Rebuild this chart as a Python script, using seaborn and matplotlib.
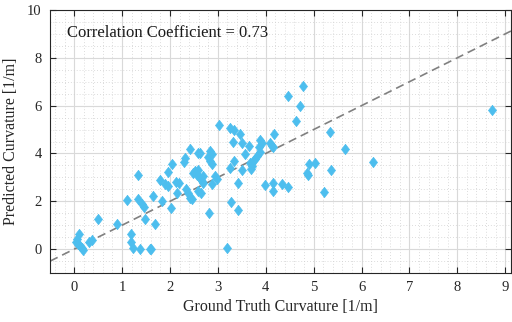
import matplotlib
matplotlib.use("Agg")
import matplotlib.pyplot as plt
from matplotlib.ticker import MultipleLocator
import seaborn as sns
import pandas as pd

# Ground truth vs. predicted curvature samples [1/m]
ground_truth = [
    0.11, 0.06, 0.04, 0.09, 0.13, 0.16, 0.19, 0.37, 0.32, 0.49,
    0.90, 1.18, 1.18, 1.22, 1.38, 1.58, 1.61, 1.10, 1.34, 1.41,
    1.46, 1.49, 1.68, 1.64, 1.83, 2.02, 1.34, 1.80, 1.90, 1.96,
    2.13, 2.18, 2.33, 2.37, 2.14, 2.42, 2.46, 1.96, 2.05, 2.32,
    2.30, 2.41, 2.58, 2.63, 2.84, 2.87, 2.80, 2.84, 2.87, 2.49,
    2.53, 2.59, 2.56, 2.63, 2.70, 2.67, 2.70, 2.87, 2.59, 2.65,
    2.94, 2.98, 2.82, 3.03, 3.26, 3.33, 3.47, 3.31, 3.50, 3.66,
    3.88, 3.92, 3.87, 3.88, 3.57, 3.81, 3.78, 3.74, 3.67, 3.71,
    3.33, 3.26, 3.50, 3.69, 3.43, 3.28, 3.42, 3.19, 4.18, 4.09,
    4.13, 4.16, 3.99, 4.16, 4.16, 4.33, 4.46, 4.77, 4.47, 4.72,
    4.64, 5.34, 5.66, 6.24, 8.73, 4.91, 5.02, 4.87, 4.89, 5.37,
    5.21,
]
predicted = [
    0.63, 0.42, 0.28, 0.21, 0.12, 0.05, -0.02, 0.40, 0.30, 1.24,
    1.05, 0.64, 0.28, 0.05, 0.00, 0.00, 0.00, 2.07, 2.10, 1.90,
    1.78, 1.25, 1.07, 2.22, 2.01, 1.74, 3.10, 2.89, 2.71, 2.64,
    2.80, 2.78, 2.53, 2.35, 2.36, 2.15, 2.08, 3.24, 3.54, 3.82,
    3.64, 4.17, 4.03, 4.03, 4.12, 3.96, 3.84, 3.68, 3.58, 3.19,
    3.28, 3.33, 3.10, 2.99, 3.05, 2.85, 2.75, 2.71, 2.45, 2.36,
    3.05, 2.94, 1.50, 5.20, 5.07, 4.97, 4.82, 4.47, 4.42, 4.33,
    4.58, 4.44, 4.26, 4.08, 3.96, 3.89, 3.75, 3.68, 3.61, 3.47,
    3.68, 3.38, 3.33, 3.36, 2.78, 1.97, 1.62, 0.03, 4.83, 4.42,
    4.33, 4.28, 2.67, 2.75, 2.42, 2.72, 2.61, 6.81, 6.42, 5.97,
    5.37, 4.90, 4.17, 3.65, 5.82, 3.57, 3.61, 3.20, 3.12, 3.33,
    2.40,
]
correlation = 0.73

x_ticks = list(range(0, 10))
y_ticks = list(range(0, 11, 2))

df = pd.DataFrame({"truth": ground_truth, "pred": predicted})

sns.set_style("white")
plt.rcParams["font.family"] = ["Liberation Serif", "DejaVu Serif"]
plt.rcParams["mathtext.fontset"] = "stix"

fig = plt.figure(figsize=(5.12, 3.22), dpi=100)
ax = fig.add_axes([0.098, 0.152, 0.900, 0.817])

point_color = "#4DBEEE"
diamond = [(0, 1), (0.78, 0), (0, -1), (-0.78, 0), (0, 1)]

# identity reference line
ax.axline((0, 0), slope=1, color="#808080", lw=1.2, ls=(0, (5, 3)), zorder=2)

sns.scatterplot(data=df, x="truth", y="pred", ax=ax, marker=diamond, s=55,
                color=point_color, edgecolor=point_color, linewidth=0.5,
                zorder=3, legend=False)

ax.set_xlim(-0.5, 9.12)
ax.set_ylim(-1, 10)
ax.set_xticks(x_ticks)
ax.set_yticks(y_ticks)
ax.xaxis.set_minor_locator(MultipleLocator(0.2))
ax.yaxis.set_minor_locator(MultipleLocator(0.5))

ax.grid(True, which="major", color="#d9d9d9", lw=0.8, zorder=0)
ax.grid(True, which="minor", color="#d0d0d0", lw=0.6, ls=(0, (1, 2.5)), zorder=0)
ax.set_axisbelow(True)

for side in ["left", "right", "top", "bottom"]:
    ax.spines[side].set_visible(True)
    ax.spines[side].set_color("#262626")
    ax.spines[side].set_linewidth(0.8)

ax.tick_params(which="major", direction="in", length=4, width=0.8,
               top=True, right=True, bottom=True, left=True,
               labelsize=10.5, colors="#262626", pad=6)
ax.tick_params(which="minor", length=0)

ax.set_xlabel("Ground Truth Curvature [1/m]", fontsize=11.5, color="#262626", labelpad=3)
ax.set_ylabel("Predicted Curvature [1/m]", fontsize=11.5, color="#262626", labelpad=6)

ax.text(0.037, 0.913, f"Correlation Coefficient = {correlation:.2f}",
        transform=ax.transAxes, fontsize=12, color="#1a1a1a",
        ha="left", va="center")

fig.savefig("out.png", dpi=100)
